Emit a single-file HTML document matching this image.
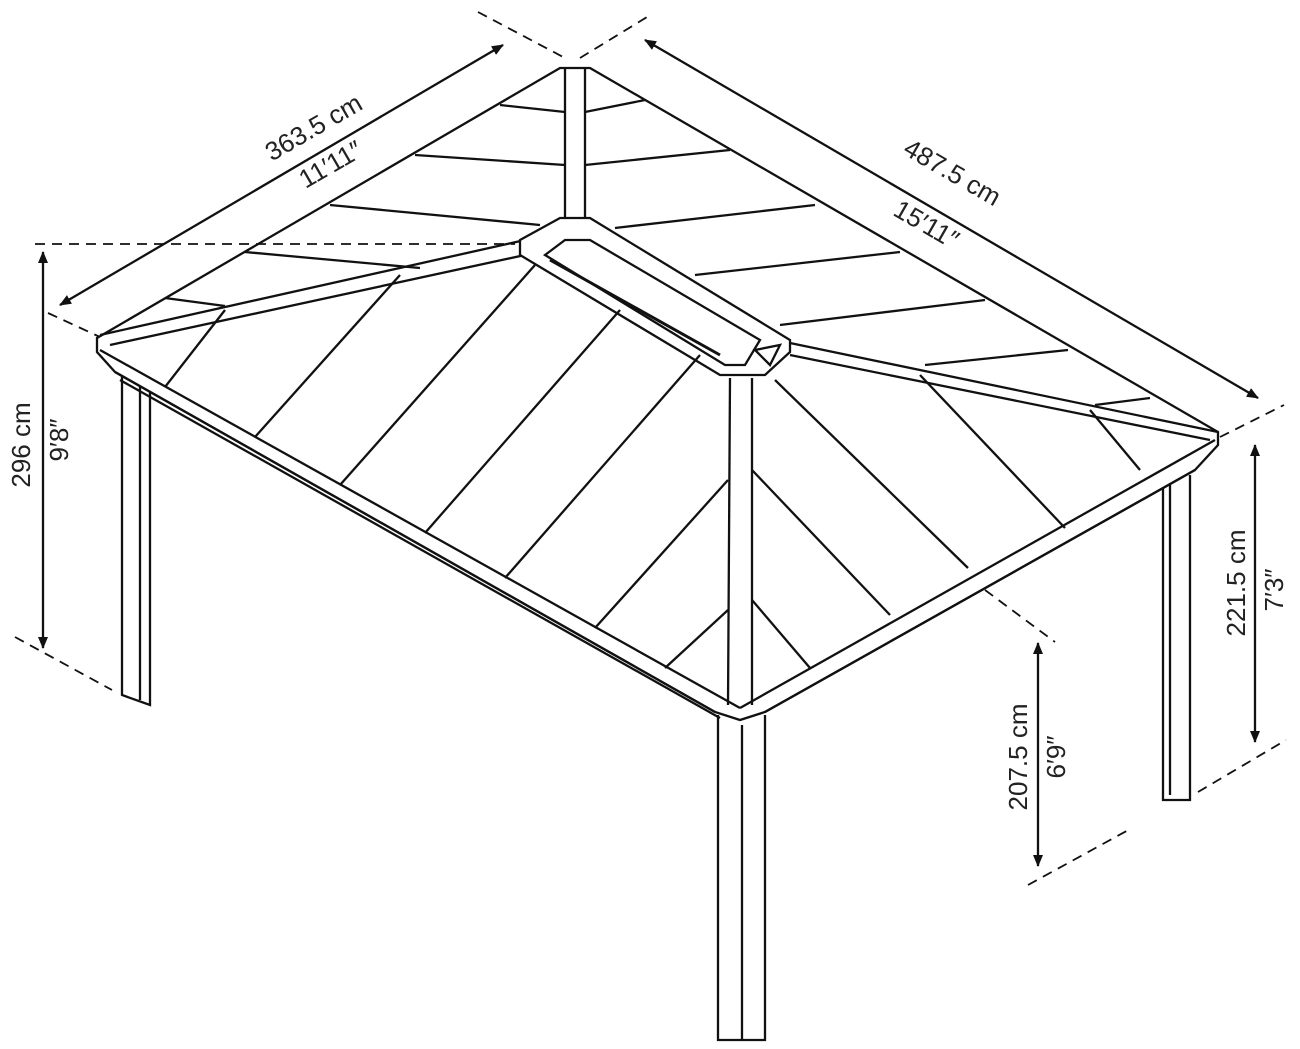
<!DOCTYPE html>
<html><head><meta charset="utf-8"><style>
html,body{margin:0;padding:0;background:#fff;}
svg{display:block;}
text{font-family:"Liberation Sans",sans-serif;font-size:26px;fill:#222;}
</style></head><body>
<svg width="1300" height="1049" viewBox="0 0 1300 1049" xmlns="http://www.w3.org/2000/svg">
<defs>
<marker id="a" markerWidth="12" markerHeight="10" refX="11" refY="5" orient="auto-start-reverse" markerUnits="userSpaceOnUse">
<path d="M0,0 L12,5 L0,10 z" fill="#111"/></marker>
</defs>
<g stroke="#111" stroke-width="2.3" fill="none">
<g stroke-dasharray="10,7" stroke-width="1.8">
<line x1="478" y1="12" x2="565" y2="58"/>
<line x1="580" y1="58" x2="652" y2="14"/>
<line x1="48" y1="313" x2="100" y2="337"/>
<line x1="15" y1="637" x2="112" y2="690"/>
<line x1="1220" y1="437" x2="1284" y2="405"/>
<line x1="1198" y1="792" x2="1286" y2="740"/>
<line x1="985" y1="590" x2="1055" y2="642"/>
<line x1="1028" y1="885" x2="1132" y2="828"/>
</g>
<line x1="60" y1="305" x2="503" y2="45" marker-start="url(#a)" marker-end="url(#a)"/>
<line x1="645" y1="40" x2="1258" y2="398" marker-start="url(#a)" marker-end="url(#a)"/>
<line x1="43" y1="252" x2="43" y2="648" marker-start="url(#a)" marker-end="url(#a)"/>
<line x1="1255" y1="445" x2="1255" y2="742" marker-start="url(#a)" marker-end="url(#a)"/>
<line x1="1038" y1="643" x2="1038" y2="866" marker-start="url(#a)" marker-end="url(#a)"/>

<path d="M122,372 L122,695 L150,705 L150,385" fill="#fff"/>
<line x1="140" y1="380" x2="140" y2="700"/>
<path d="M718,715 L718,1040 L765,1040 L765,715" fill="#fff"/>
<line x1="742" y1="725" x2="742" y2="1040"/>
<path d="M1163,485 L1163,800 L1190,800 L1190,475" fill="#fff"/>
<line x1="1170" y1="485" x2="1170" y2="795"/>

<path d="M97,338 L560,68 L590,68 L1218,432 L1218,445 L1195,470 L765,712 L740,720 L715,712 L115,372 L97,352 Z" fill="#fff"/>
<line x1="100" y1="350" x2="740" y2="708"/>
<line x1="740" y1="708" x2="1215" y2="440"/>
<line x1="115" y1="372" x2="715" y2="712"/>
<line x1="765" y1="712" x2="1195" y2="470"/>
<line x1="120" y1="380" x2="720" y2="718"/>
<line x1="565" y1="68" x2="565" y2="230"/>
<line x1="585" y1="68" x2="585" y2="225"/>
<line x1="100" y1="335" x2="525" y2="240"/>
<line x1="110" y1="345" x2="525" y2="255"/>
<line x1="790" y1="343" x2="1218" y2="432"/>
<line x1="790" y1="355" x2="1210" y2="440"/>
<line x1="730" y1="378" x2="728" y2="705"/>
<line x1="752" y1="378" x2="752" y2="705"/>
<line x1="35" y1="244" x2="515" y2="244" stroke-dasharray="10,7" stroke-width="1.8"/>
<path d="M520,240 L560,218 L590,218 L790,340 L790,352 L765,375 L720,375 L520,255 Z" fill="#fff"/>
<path d="M545,255 L565,240 L590,240 L760,340 L745,365 L725,365 Z"/>
<path d="M550,260 L720,355" stroke-width="3"/>
<path d="M755,350 L780,345 L770,365 Z"/>
<g>
<line x1="500" y1="105" x2="565" y2="112"/>
<line x1="415" y1="155" x2="565" y2="165"/>
<line x1="330" y1="205" x2="540" y2="225"/>
<line x1="245" y1="252" x2="420" y2="268"/>
<line x1="165" y1="298" x2="225" y2="306"/>
<line x1="585" y1="112" x2="645" y2="100"/>
<line x1="585" y1="165" x2="730" y2="150"/>
<line x1="615" y1="228" x2="815" y2="205"/>
<line x1="695" y1="275" x2="900" y2="252"/>
<line x1="780" y1="325" x2="985" y2="300"/>
<line x1="925" y1="365" x2="1068" y2="350"/>
<line x1="1095" y1="405" x2="1150" y2="398"/>
<line x1="225" y1="310" x2="165" y2="387"/>
<line x1="400" y1="275" x2="255" y2="437"/>
<line x1="535" y1="265" x2="340" y2="485"/>
<line x1="620" y1="310" x2="425" y2="533"/>
<line x1="700" y1="355" x2="505" y2="578"/>
<line x1="728" y1="480" x2="595" y2="628"/>
<line x1="728" y1="610" x2="665" y2="668"/>
<line x1="752" y1="470" x2="890" y2="615"/>
<line x1="752" y1="600" x2="810" y2="668"/>
<line x1="775" y1="380" x2="968" y2="568"/>
<line x1="920" y1="375" x2="1065" y2="528"/>
<line x1="1090" y1="410" x2="1140" y2="470"/>
</g>
</g>
<text transform="translate(318,135) rotate(-30)" text-anchor="middle">363.5 cm</text>
<text transform="translate(335,172) rotate(-30)" text-anchor="middle">11′11″</text>
<text transform="translate(948,180) rotate(30)" text-anchor="middle">487.5 cm</text>
<text transform="translate(922,232) rotate(30)" text-anchor="middle">15′11″</text>
<text transform="translate(30,445) rotate(-90)" text-anchor="middle">296 cm</text>
<text transform="translate(68,440) rotate(-90)" text-anchor="middle">9′8″</text>
<text transform="translate(1245,583) rotate(-90)" text-anchor="middle">221.5 cm</text>
<text transform="translate(1283,590) rotate(-90)" text-anchor="middle">7′3″</text>
<text transform="translate(1027,757) rotate(-90)" text-anchor="middle">207.5 cm</text>
<text transform="translate(1065,757) rotate(-90)" text-anchor="middle">6′9″</text>
</svg>
</body></html>
